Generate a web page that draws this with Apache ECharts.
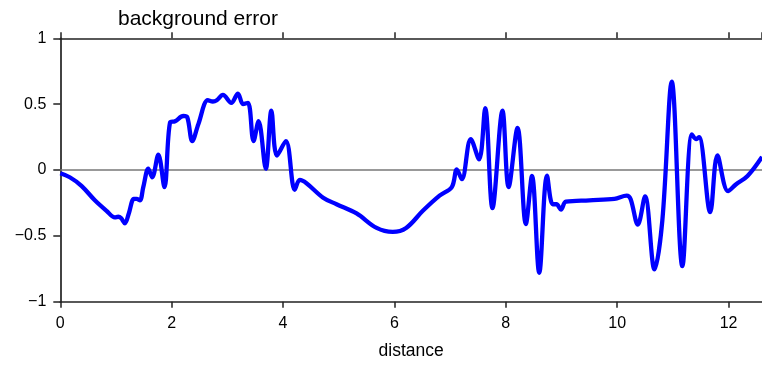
<!DOCTYPE html>
<html><head><meta charset="utf-8">
<script src="https://cdn.jsdelivr.net/npm/echarts@6/dist/echarts.min.js"></script>
<style>html,body{margin:0;padding:0;background:#fff}#c{width:762px;height:366px}</style>
</head><body><div id="c"></div>
<script>
const distance = [0,0.17,0.38,0.62,0.83,0.98,1.04,1.09,1.16,1.23,1.32,1.37,1.43,1.49,1.58,1.65,1.76,1.87,1.97,2.06,2.21,2.28,2.37,2.48,2.65,2.74,2.81,2.92,3.07,3.19,3.28,3.37,3.47,3.56,3.69,3.79,3.89,4.05,4.21,4.30,4.42,4.72,4.96,5.32,5.68,5.97,6.21,6.51,6.81,7.03,7.12,7.21,7.37,7.52,7.63,7.76,7.94,8.05,8.21,8.36,8.47,8.60,8.74,8.84,8.91,8.99,9.08,9.50,9.95,10.17,10.24,10.37,10.50,10.67,10.81,10.98,11.17,11.34,11.42,11.47,11.67,11.80,11.99,12.13,12.34,12.6];
const backgroundError = [-0.025,-0.055,-0.12,-0.23,-0.31,-0.36,-0.355,-0.365,-0.405,-0.33,-0.22,-0.22,-0.23,-0.13,0.01,-0.056,0.116,-0.13,0.36,0.37,0.41,0.40,0.22,0.35,0.53,0.52,0.53,0.57,0.51,0.58,0.50,0.51,0.22,0.37,0.01,0.45,0.11,0.22,-0.15,-0.075,-0.10,-0.21,-0.26,-0.33,-0.44,-0.47,-0.44,-0.31,-0.195,-0.13,0.005,-0.07,0.235,0.08,0.47,-0.29,0.45,-0.13,0.32,-0.41,-0.045,-0.78,-0.043,-0.26,-0.26,-0.30,-0.24,-0.23,-0.22,-0.195,-0.22,-0.415,-0.20,-0.755,-0.385,0.67,-0.73,0.27,0.235,0.25,-0.32,0.11,-0.16,-0.11,-0.045,0.10];
const yTicks = [-1,-0.5,0,0.5,1];
const yTickLabels = ['\u22121','\u22120.5','0','0.5','1'];
const xTicks = [0,2,4,6,8,10,12];
const xTickLabels = ['0','2','4','6','8','10','12'];
const titleText = 'background error';
const xName = 'distance';

const font = 'Liberation Sans, Arial, Helvetica, sans-serif';
const axisColor = '#222';
const data = distance.map((d,i)=>[d, backgroundError[i]]);
const chart = echarts.init(document.getElementById('c'), null, {renderer:'canvas'});
chart.setOption({
  animation:false,
  backgroundColor:'#fff',
  title:{text:titleText,left:113,top:4,textStyle:{fontFamily:font,fontWeight:'normal',fontSize:21,color:'#000'}},
  grid:{left:60.3,right:0,top:38.3,bottom:64.3},
  xAxis:[{
    type:'value',min:0,max:12.6,interval:2,position:'bottom',
    name:xName,nameLocation:'middle',nameGap:40,
    nameTextStyle:{fontFamily:font,fontSize:17.5,color:'#000'},
    axisLine:{show:true,onZero:false,lineStyle:{color:axisColor,width:1.7}},
    axisTick:{show:true,length:6,lineStyle:{color:axisColor,width:1.5}},
    axisLabel:{showMaxLabel:false,margin:14,fontFamily:font,fontSize:16,color:'#000',
      formatter:v=>{const i=xTicks.indexOf(v);return i>=0?xTickLabels[i]:'';}},
    splitLine:{show:false}
  },{
    type:'value',min:0,max:12.6,interval:2,position:'top',
    axisLine:{show:true,onZero:false,lineStyle:{color:axisColor,width:1.7}},
    axisTick:{show:true,length:6,lineStyle:{color:axisColor,width:1.5}},
    axisLabel:{show:false},splitLine:{show:false}
  }],
  yAxis:{
    type:'value',min:-1,max:1,interval:0.5,
    axisLine:{show:true,onZero:false,lineStyle:{color:axisColor,width:1.7}},
    axisTick:{show:true,length:7,lineStyle:{color:axisColor,width:1.5}},
    axisLabel:{margin:14,fontFamily:font,fontSize:16,color:'#000',
      formatter:v=>{const i=yTicks.indexOf(v);return i>=0?yTickLabels[i]:'';}},
    splitLine:{show:false}
  },
  series:[{
    type:'line',data:data,xAxisIndex:0,showSymbol:false,symbol:'none',
    smooth:0.35,
    lineStyle:{color:'#0000ff',width:4.3},
    z:3,
    markLine:{silent:true,symbol:'none',label:{show:false},
      lineStyle:{color:'#777',width:1.5,type:'solid'},data:[{yAxis:0}],z:1}
  }]
});
</script>
</body></html>
